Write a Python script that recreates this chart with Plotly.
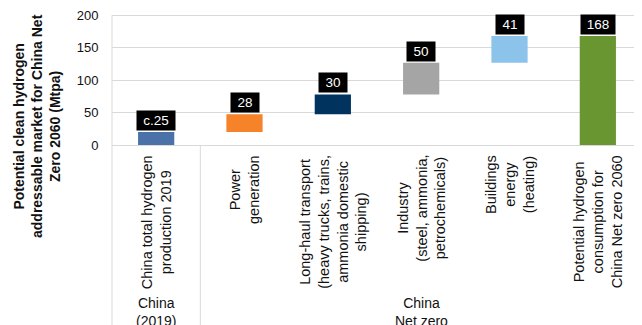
import plotly.graph_objects as go

# categories (x axis)
kategoriak = [
    "China total hydrogen<br>production 2019",
    "Power<br>generation",
    "Long-haul transport<br>(heavy trucks, trains,<br>ammonia domestic<br>shipping)",
    "Industry<br>(steel, ammonia,<br>petrochemicals)",
    "Buildings<br>energy<br>(heating)",
    "Potential hydrogen<br>consumption for<br>China Net zero 2060",
]
csoportok = ["China<br>(2019)", "China<br>Net zero<br>2060"]
csoport_tagok = [[0], [1, 2, 3, 4, 5]]

# bar bases and heights (Mtpa), estimated from the bars
alap = [0, 20, 47.5, 78, 127, 0]
magassag = [20, 27.5, 30.5, 49, 41, 168]
cimkek = ["c.25", "28", "30", "50", "41", "168"]
szinek = ["#4a72a9", "#f6822a", "#00345f", "#a5a5a5", "#8cc3ea", "#6a9632"]

y_tickek = [0, 50, 100, 150, 200]

FONT = "Arial, Liberation Sans, sans-serif"
RACS = "#d9d9d9"

x = list(range(len(kategoriak)))

fig = go.Figure()
fig.add_trace(go.Bar(
    x=x, y=magassag, base=alap,
    marker=dict(color=szinek, line=dict(width=0)),
    width=0.41,
    hoverinfo="skip",
))

annotations = []

# value labels in black boxes
for i, c in enumerate(cimkek):
    w = {2: 16, 3: 22, 4: 26}[len(c)]
    annotations.append(dict(
        x=i, y=alap[i] + magassag[i], xref="x", yref="y",
        text=c, showarrow=False, yanchor="bottom", yshift=1,
        bgcolor="black", borderpad=2, width=w + 8,
        font=dict(family=FONT, size=13.5, color="white"),
    ))

# rotated category labels
for i, k in enumerate(kategoriak):
    annotations.append(dict(
        x=i, y=0, xref="x", yref="paper",
        text=k, showarrow=False, textangle=-90,
        xanchor="center", yanchor="top", yshift=-8, align="center",
        font=dict(family=FONT, size=14.5, color="#111"),
    ))

# group labels
for g, tagok in zip(csoportok, csoport_tagok):
    annotations.append(dict(
        x=sum(tagok) / len(tagok), y=0, xref="x", yref="paper",
        text=g, showarrow=False, xanchor="center", yanchor="top",
        yshift=-148, align="center",
        font=dict(family=FONT, size=14, color="#111"),
    ))

# y axis title
annotations.append(dict(
    x=0, y=0, xref="paper", yref="paper", xshift=-75, yshift=19,
    text="Potential clean hydrogen<br>addressable market for China Net<br>Zero 2060 (Mtpa)",
    showarrow=False, textangle=-90, xanchor="center", yanchor="middle",
    align="center",
    font=dict(family=FONT, size=14, color="#111", weight="bold"),
))

# divider lines of the category table
shapes = [
    dict(type="line", xref="paper", yref="paper", x0=0, x1=0, y0=0.99, y1=-1.5,
         line=dict(color=RACS, width=1)),
    dict(type="line", xref="x", yref="paper", x0=0.5, x1=0.5, y0=0, y1=-1.5,
         line=dict(color=RACS, width=1)),
    dict(type="line", xref="x", yref="paper", x0=5.49, x1=5.49, y0=0, y1=-1.5,
         line=dict(color=RACS, width=1)),
]

# the page body adds an 8px margin, so the figure is 8px smaller
fig.update_layout(
    width=634, height=317,
    margin=dict(l=104, r=0, t=6, b=180),
    paper_bgcolor="white", plot_bgcolor="white",
    showlegend=False,
    font=dict(family=FONT, color="#111"),
    xaxis=dict(range=[-0.5, 5.5], showticklabels=False, showgrid=False,
               zeroline=False, showline=False, fixedrange=True),
    yaxis=dict(range=[0, 202], tickvals=y_tickek, showgrid=True,
               gridcolor=RACS, gridwidth=1, zeroline=True, zerolinecolor=RACS,
               zerolinewidth=1, showline=False, ticklabeloverflow="allow",
               ticks="outside", ticklen=10, tickcolor="rgba(0,0,0,0)",
               tickfont=dict(family=FONT, size=13, color="#111")),
    annotations=annotations,
    shapes=shapes,
)

fig.write_html("out.html")
